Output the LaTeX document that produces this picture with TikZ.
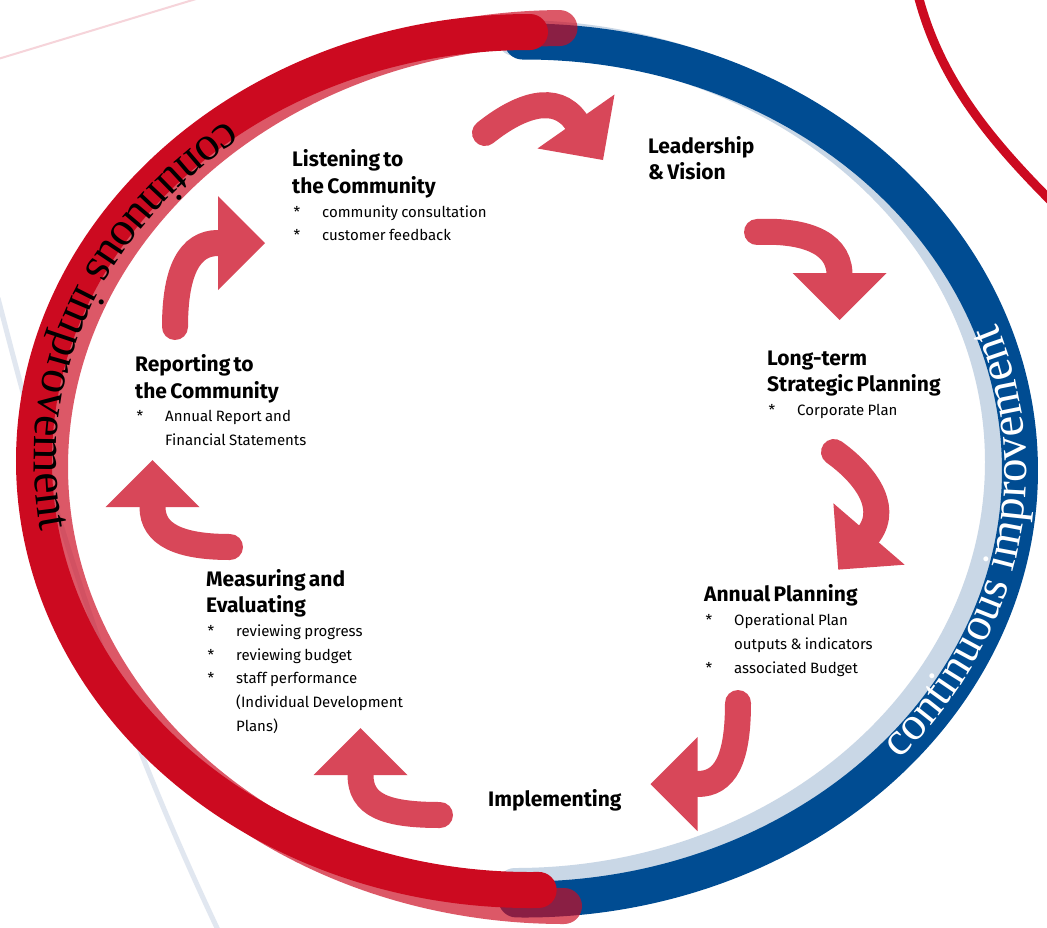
\documentclass[tikz,border=0pt]{standalone}
\usepackage{fontspec}
\newfontfamily\labelfont{Fira Sans}
\newfontfamily\ringfont{Liberation Serif}
\usetikzlibrary{calc,decorations.text}

\definecolor{ringred}{RGB}{204,10,32}
\definecolor{ringblue}{RGB}{0,76,146}
\definecolor{paleblue}{RGB}{201,215,230}
\definecolor{arrowred}{RGB}{216,71,89}
\definecolor{threadgrey}{RGB}{225,231,240}
\definecolor{threadpink}{RGB}{246,212,218}

\newcommand\stagehead{\fontsize{21pt}{26.5pt}\selectfont\bfseries}
\newcommand\stagebody{\fontsize{15pt}{23.8pt}\selectfont}
\newcommand\bul{\makebox[30pt][l]{\hspace{1.5pt}*}}
\newcommand\contline{\hspace*{30pt}}

\tikzset{
  band/.style={line width=36pt, line cap=round},
  flowline/.style={draw=arrowred, line width=26pt, line cap=round},
  flowhead/.style={fill=arrowred},
  stage/.style={anchor=base west, inner sep=0pt, text width=280pt, align=left, font=\labelfont},
}

\begin{document}
\begin{tikzpicture}[x=1pt,y=-1pt]
\useasboundingbox (0,0) rectangle (1047,927);
\clip (0,0) rectangle (1047,927);
\fill[white] (0,0) rectangle (1047,927);

% thin background threads
\draw[threadpink, line width=2pt] (-2,59) -- (196,-1);
\draw[threadgrey, line width=5pt] (-2,298) .. controls (45,480) and (100,680) .. (218,930);
\draw[ringred, line width=9pt] (918,-5) .. controls (940,80) and (990,140) .. (1055,205);

% blue half of the ring
\draw[band, paleblue] (515,462) ++(-90:488 and 424)
  arc[start angle=-90, end angle=90, x radius=488, y radius=424];
\draw[band, ringblue] (525,470.5) ++(-90.3:495 and 429)
  arc[start angle=-90.3, end angle=91, x radius=495, y radius=429];
\path[decorate, decoration={text along path, text align=center, raise=-6pt,
  text={|\ringfont\fontsize{47pt}{47pt}\selectfont\color{white}|continuous improvement}}]
  (525,470.5) ++(80:495 and 429) arc[start angle=80, end angle=-60, x radius=495, y radius=429];

% red half of the ring
\draw[band, ringred, draw opacity=0.68] (564,467) ++(-90.5:514 and 439)
  arc[start angle=-90.5, end angle=-270, x radius=514, y radius=439];
\draw[band, ringred] (530,461) ++(-90:496 and 429)
  arc[start angle=-90, end angle=-271, x radius=496, y radius=429];
\path[decorate, decoration={text along path, text align=center, raise=0pt,
  text={|\ringfont\fontsize{48pt}{48pt}\selectfont|continuous improvement}}]
  (530,461) ++(-95:496 and 429) arc[start angle=-95, end angle=-225, x radius=496, y radius=429];

% cycle arrows
\coordinate (f1t) at (485,133);   \coordinate (f1m) at (576,121.5); \coordinate (f1p) at (603,160);
\coordinate (f2t) at (757,232);   \coordinate (f2m) at (839.5,273); \coordinate (f2p) at (839.5,320);
\coordinate (f3t) at (834,452);   \coordinate (f3m) at (869,534);   \coordinate (f3p) at (838.3,569.6);
\coordinate (f4t) at (738,703);   \coordinate (f4m) at (697.5,784); \coordinate (f4p) at (650.5,784);
\coordinate (f5t) at (440,815);   \coordinate (f5m) at (360.5,775); \coordinate (f5p) at (360.5,728);
\coordinate (f6t) at (230,547);   \coordinate (f6m) at (152.5,507); \coordinate (f6p) at (152.5,460);
\coordinate (f7t) at (175,327);   \coordinate (f7m) at (218,243);   \coordinate (f7p) at (265,243);

\draw[flowline] (f1t) .. controls (520,105) and (556,93) .. (f1m);
\draw[flowline] (f2t) .. controls (800,230) and (838,240) .. (f2m);
\draw[flowline] (f3t) .. controls (862,472) and (890,505) .. (f3m);
\draw[flowline] (f4t) .. controls (738,760) and (725,784) .. (f4m);
\draw[flowline] (f5t) .. controls (385,815) and (360.5,805) .. (f5m);
\draw[flowline] (f6t) .. controls (180,547) and (152.5,535) .. (f6m);
\draw[flowline] (f7t) .. controls (175,270) and (190,243) .. (f7m);
\foreach \i in {1,...,7}{
  \fill[flowhead] (f\i p) -- ($(f\i m)!1!90:(f\i p)$) -- ($(f\i m)!1!-90:(f\i p)$) -- cycle;
}

% stage labels
\node[stage] (listen) at (292,166.8)
  {{\stagehead Listening to\\the Community\par}\stagebody
   \bul community consultation\\\bul customer feedback\par};
\node[stage] (lead) at (648,153.3)
  {\stagehead Leadership\\\& Vision\par};
\node[stage] (strat) at (767,365)
  {{\stagehead Long-term\\Strategic Planning\par}\stagebody
   \bul Corporate Plan\par};
\node[stage] (annual) at (704,601.7)
  {{\stagehead Annual Planning\par}\stagebody
   \bul Operational Plan\\\contline outputs \& indicators\\\bul associated Budget\par};
\node[stage] (impl) at (488,806)
  {\stagehead Implementing\par};
\node[stage] (measure) at (206,586)
  {{\stagehead Measuring and\\Evaluating\par}\stagebody
   \bul reviewing progress\\\bul reviewing budget\\\bul staff performance\\
   \contline (Individual Development\\\contline Plans)\par};
\node[stage] (report) at (135,371.6)
  {{\stagehead Reporting to\\the Community\par}\stagebody
   \bul Annual Report and\\\contline Financial Statements\par};
\end{tikzpicture}
\end{document}
